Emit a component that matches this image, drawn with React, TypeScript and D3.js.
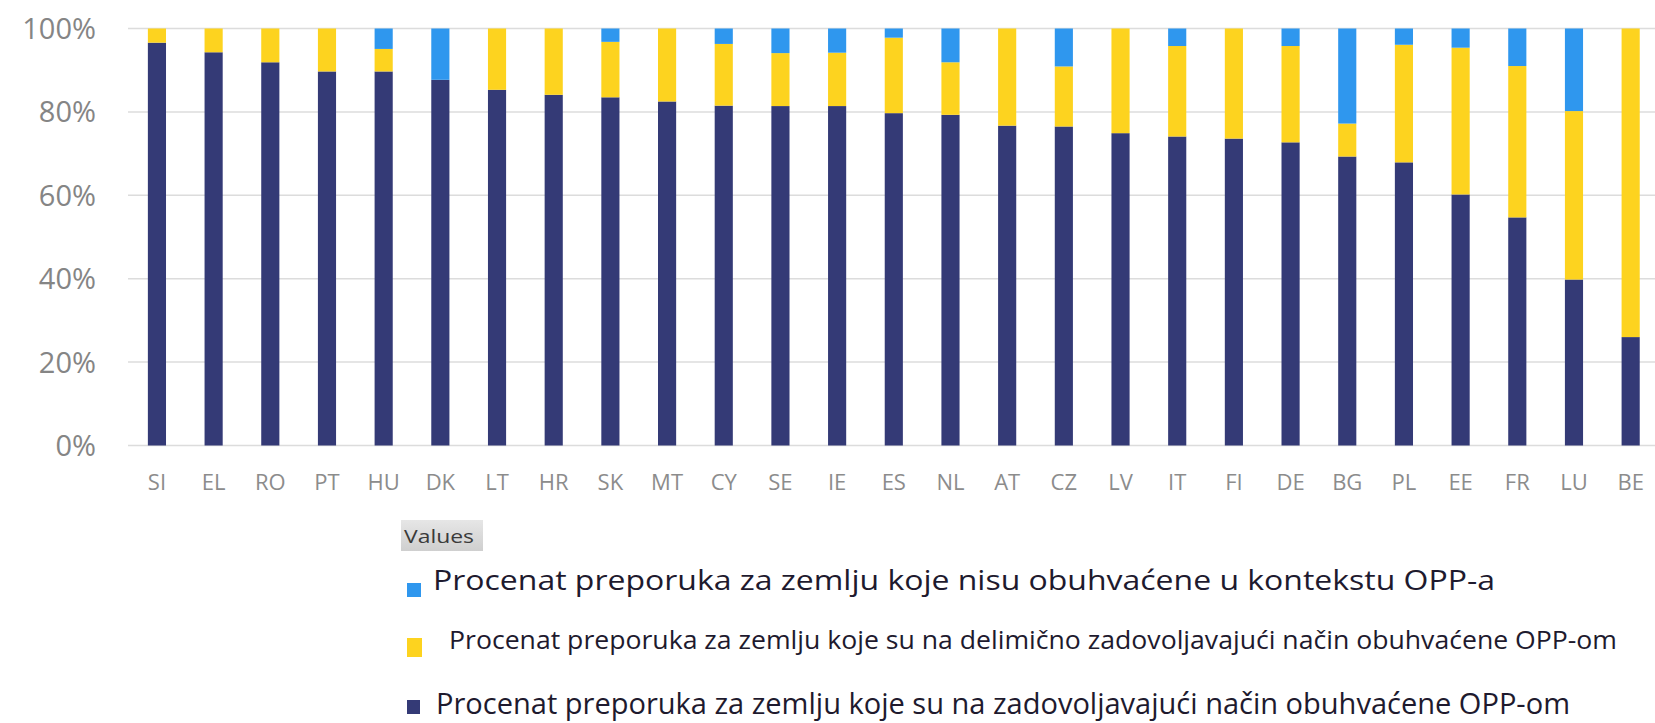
import React from "react";
import * as d3 from "d3";

const countries = ["SI","EL","RO","PT","HU","DK","LT","HR","SK","MT","CY","SE","IE","ES","NL","AT","CZ","LV","IT","FI","DE","BG","PL","EE","FR","LU","BE"];
// share of recommendations, satisfactorily covered (navy)
const covered = [96.6,94.3,91.9,89.7,89.7,87.7,85.3,84.1,83.5,82.5,81.5,81.4,81.4,79.7,79.3,76.7,76.5,74.9,74.1,73.6,72.7,69.3,67.9,60.2,54.7,39.8,26.0];
// partially covered (yellow)
const partial = [3.4,5.7,8.1,10.3,5.4,0,14.7,15.9,13.3,17.5,14.8,12.7,12.8,18.1,12.6,23.3,14.4,25.1,21.7,26.4,23.1,7.9,28.2,35.2,36.3,40.4,74.0];
// not covered (light blue)
const notCovered = [0,0,0,0,4.9,12.3,0,0,3.2,0,3.7,5.9,5.8,2.2,8.1,0,9.1,0,4.2,0,4.2,22.8,3.9,4.6,9.0,19.8,0];

const yTicks = [0, 20, 40, 60, 80, 100];
const seriesKeys = ["covered", "partial", "notCovered"];
const seriesColors = ["#343a76", "#fdd31f", "#2f97ee"];
const legendLabels = [
  "Procenat preporuka za zemlju koje nisu obuhvaćene u kontekstu OPP-a",
  "Procenat preporuka za zemlju koje su na delimično zadovoljavajući način obuhvaćene OPP-om",
  "Procenat preporuka za zemlju koje su na zadovoljavajući način obuhvaćene OPP-om",
];

const W = 1655;
const H = 723;

export default function App() {
  const rows = countries.map((c, i) => ({
    country: c,
    covered: covered[i],
    partial: partial[i],
    notCovered: notCovered[i],
  }));
  const stacked = d3.stack<any>().keys(seriesKeys)(rows);

  const x = d3
    .scaleBand()
    .domain(countries)
    .range([128.6, 1659])
    .paddingInner(0.68)
    .paddingOuter(0.34);
  const y = d3.scaleLinear().domain([0, 100]).range([445.5, 28.5]);

  const font = "'Open Sans', 'DejaVu Sans', sans-serif";

  // legend rows: blue, yellow, navy (top to bottom)
  const legendRows = [
    { color: seriesColors[2], label: legendLabels[0], sq: [407, 583, 14, 14], tx: 433, ty: 590, fs: 28, len: 1062, fam: "'Open Sans', sans-serif" },
    { color: seriesColors[1], label: legendLabels[1], sq: [407, 638, 15, 19], tx: 449, ty: 649, fs: 26, len: 1168, fam: "'Open Sans', sans-serif" },
    { color: seriesColors[0], label: legendLabels[2], sq: [407, 700, 13, 14], tx: 436, ty: 714, fs: 30, len: 1134, fam: "'Liberation Sans Narrow', 'Open Sans', sans-serif" },
  ];

  return (
    <svg width={W} height={H} style={{ position: "absolute", left: 0, top: 0, background: "#fff" }}>
      <defs>
        <linearGradient id="btn" x1="0" y1="0" x2="0" y2="1">
          <stop offset="0%" stopColor="#e6e6e6" />
          <stop offset="100%" stopColor="#cfcfcf" />
        </linearGradient>
      </defs>

      {/* gridlines */}
      <g>
        {yTicks.map((t) => (
          <line key={t} x1={128} x2={W} y1={y(t)} y2={y(t)} stroke="#dcdcdc" strokeWidth={1.5} />
        ))}
      </g>

      {/* y tick labels */}
      <g fontFamily={font} fontSize={29} fill="#858585" textAnchor="end">
        {yTicks.map((t) => (
          <text key={t} x={96} y={y(t)} dy="0.36em">
            {t + "%"}
          </text>
        ))}
      </g>

      {/* bars */}
      {stacked.map((s, si) => (
        <g key={s.key} fill={seriesColors[si]}>
          {s.map((d: any) => (
            <rect
              key={d.data.country}
              x={x(d.data.country)}
              width={x.bandwidth()}
              y={y(d[1])}
              height={Math.max(0, y(d[0]) - y(d[1]))}
            />
          ))}
        </g>
      ))}

      {/* x labels */}
      <g fontFamily={font} fontSize={22} fill="#8c8c8c" textAnchor="middle">
        {countries.map((c) => (
          <text key={c} x={(x(c) as number) + x.bandwidth() / 2} y={482} dy="0.36em">
            {c}
          </text>
        ))}
      </g>

      {/* legend */}
      <rect x={401} y={520} width={82} height={31} fill="url(#btn)" />
      <text x={404} y={543} fontFamily={font} fontSize={18} fill="#3a3a3a" textLength={70} lengthAdjust="spacingAndGlyphs">
        Values
      </text>
      {legendRows.map((r, i) => (
        <g key={i}>
          <rect x={r.sq[0]} y={r.sq[1]} width={r.sq[2]} height={r.sq[3]} fill={r.color} />
          <text
            x={r.tx}
            y={r.ty}
            fontFamily={r.fam}
            fontSize={r.fs}
            fill="#1e1a2e"
            textLength={r.len}
            lengthAdjust="spacingAndGlyphs"
          >
            {r.label}
          </text>
        </g>
      ))}
    </svg>
  );
}
